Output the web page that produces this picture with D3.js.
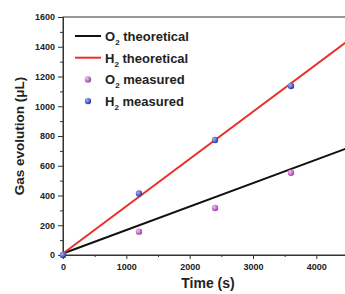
<!DOCTYPE html>
<html>
<head>
<meta charset="utf-8">
<script src="https://cdn.jsdelivr.net/npm/d3@7"></script>
<style>
body { margin: 0; background: #fff; }
svg { font-family: "Liberation Sans", Arial, sans-serif; font-weight: bold; }
</style>
</head>
<body>
<svg width="345" height="294"></svg>
<script>
// data
let timeTheo = [0, 4500];
let o2Theo = [10, 720];
let h2Theo = [10, 1440];
let timeMeas = [0, 1200, 2400, 3600];
let o2Meas = [0, 157, 316, 553];
let h2Meas = [0, 413, 773, 1136];
let xTicks = [0, 1000, 2000, 3000, 4000];
let yTicks = [0, 200, 400, 600, 800, 1000, 1200, 1400, 1600];

var svg = d3.select("svg");
var padL = 63, padT = 17, padB = 255, padR = 348;

var x = d3.scaleLinear().domain([0, 4500]).range([padL, padR]);
var y = d3.scaleLinear().domain([0, 1600]).range([padB, padT]);

var defs = svg.append("defs");
function ball(id, light, base) {
  var g = defs.append("radialGradient").attr("id", id)
    .attr("cx", "35%").attr("cy", "35%").attr("r", "65%");
  g.append("stop").attr("offset", "0%").attr("stop-color", light);
  g.append("stop").attr("offset", "100%").attr("stop-color", base);
}
ball("gO2", "#f0c8f0", "#a040b0");
ball("gH2", "#a8b4f0", "#2838a8");

// frame
svg.append("rect").attr("x", padL).attr("y", padT)
  .attr("width", padR - padL).attr("height", padB - padT)
  .attr("fill", "none").attr("stroke", "#333").attr("stroke-width", 1);

// axes
var fmt = d3.format("d");
var yAxis = d3.axisLeft(y).tickValues(yTicks).tickSize(5).tickPadding(3).tickFormat(fmt);
var yMinor = d3.axisLeft(y).tickValues(d3.range(100, 1600, 200)).tickSize(3).tickFormat("");
var xAxis = d3.axisBottom(x).tickValues(xTicks).tickSize(4).tickPadding(5).tickFormat(fmt);
var xMinor = d3.axisBottom(x).tickValues(d3.range(500, 4500, 1000)).tickSize(2).tickFormat("");

function style(g) {
  g.select(".domain").attr("stroke", "#333");
  g.selectAll("line").attr("stroke", "#333");
  g.selectAll("text").attr("font-size", 9).attr("font-weight", "bold").attr("fill", "#222")
    .attr("font-family", "'Liberation Sans', Arial, sans-serif");
}
svg.append("g").attr("transform", "translate(" + padL + ",0)").call(yAxis).call(style);
svg.append("g").attr("transform", "translate(" + padL + ",0)").call(yMinor).call(style);
svg.append("g").attr("transform", "translate(0," + padB + ")").call(xAxis).call(style);
svg.append("g").attr("transform", "translate(0," + padB + ")").call(xMinor).call(style);

// axis titles
svg.append("text").attr("x", 208).attr("y", 288).attr("text-anchor", "middle")
  .attr("font-size", 14).attr("fill", "#222").text("Time (s)");
svg.append("text").attr("transform", "translate(24,136) rotate(-90)")
  .attr("text-anchor", "middle").attr("font-size", 13.5).attr("fill", "#222")
  .text("Gas evolution (μL)");

// theoretical lines
var line = d3.line().x(function(d) { return x(d[0]); }).y(function(d) { return y(d[1]); });
svg.append("path").datum(d3.zip(timeTheo, o2Theo)).attr("d", line)
  .attr("fill", "none").attr("stroke", "#111").attr("stroke-width", 2);
svg.append("path").datum(d3.zip(timeTheo, h2Theo)).attr("d", line)
  .attr("fill", "none").attr("stroke", "#e8302c").attr("stroke-width", 2);

// measured points
svg.selectAll(".o2").data(d3.zip(timeMeas, o2Meas)).enter().append("circle")
  .attr("cx", function(d) { return x(d[0]); }).attr("cy", function(d) { return y(d[1]); })
  .attr("r", 3.2).attr("fill", "url(#gO2)");
svg.selectAll(".h2").data(d3.zip(timeMeas, h2Meas)).enter().append("circle")
  .attr("cx", function(d) { return x(d[0]); }).attr("cy", function(d) { return y(d[1]); })
  .attr("r", 3.2).attr("fill", "url(#gH2)");

// legend
var legend = [
  { name: "O", sub: "2", rest: " theoretical", type: "line", color: "#111" },
  { name: "H", sub: "2", rest: " theoretical", type: "line", color: "#e8302c" },
  { name: "O", sub: "2", rest: " measured", type: "dot", color: "url(#gO2)" },
  { name: "H", sub: "2", rest: " measured", type: "dot", color: "url(#gH2)" }
];
var lg = svg.selectAll(".leg").data(legend).enter().append("g")
  .attr("transform", function(d, i) { return "translate(0," + (36 + i * 21.7) + ")"; });
lg.filter(function(d) { return d.type == "line"; }).append("line")
  .attr("x1", 75).attr("x2", 101).attr("y1", 0).attr("y2", 0)
  .attr("stroke", function(d) { return d.color; }).attr("stroke-width", 2);
lg.filter(function(d) { return d.type == "dot"; }).append("circle")
  .attr("cx", 88).attr("cy", 0).attr("r", 3.2).attr("fill", function(d) { return d.color; });
var t = lg.append("text").attr("x", 105).attr("y", 5).attr("font-size", 13).attr("fill", "#222");
t.append("tspan").text(function(d) { return d.name; });
t.append("tspan").attr("font-size", 8).attr("dy", 4).text(function(d) { return d.sub; });
t.append("tspan").attr("dy", -4).text(function(d) { return d.rest; });
</script>
</body>
</html>
